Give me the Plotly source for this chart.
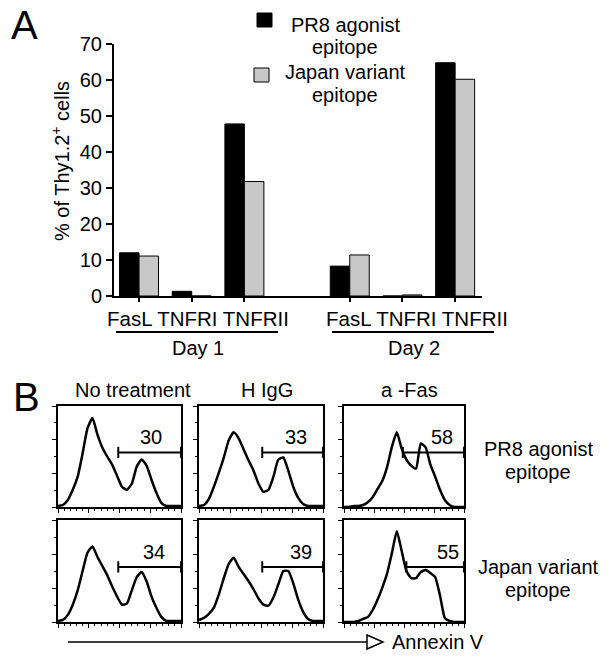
import plotly.graph_objects as go

W, H = 611, 663
FONT = "Liberation Sans, Arial, sans-serif"


def fx(p):
    # pixel column -> paper x
    return p / W


def fy(p):
    # pixel row -> paper y
    return 1 - p / H


# ---- panel A data ----
categories = ["FasL", "TNFRI", "TNFRII"]
days = ["Day 1", "Day 2"]
pr8_agonist = [12.0, 1.3, 47.8, 8.3, 0.0, 64.8]
japan_variant = [11.1, 0.0, 31.8, 11.4, 0.3, 60.2]
y_ticks = [0, 10, 20, 30, 40, 50, 60, 70]
series_names = [["PR8 agonist", "epitope"], ["Japan variant", "epitope"]]

# ---- panel B data: Annexin V histograms (% of max), every 4 channels ----
channel = list(range(0, 101, 4))
hist_pr8_none = [1, 2, 7, 17, 30, 53, 78, 88, 72, 59, 50, 42, 31, 20, 17, 23, 40, 47, 41, 27, 14, 4, 1, 1, 1, 1]
hist_pr8_higg = [1, 2, 8, 20, 34, 49, 66, 74, 68, 57, 46, 36, 23, 15, 17, 30, 47, 49, 36, 20, 9, 3, 1, 1, 1, 1]
hist_pr8_fas = [0, 0, 1, 1, 2, 5, 10, 18, 26, 40, 60, 74, 58, 47, 41, 38, 63, 59, 42, 30, 17, 7, 2, 0, 0, 0]
hist_jap_none = [1, 2, 7, 17, 31, 50, 68, 74, 64, 55, 46, 35, 25, 17, 18, 31, 44, 49, 40, 25, 14, 5, 1, 1, 1, 1]
hist_jap_higg = [2, 4, 8, 14, 27, 43, 57, 63, 54, 47, 40, 32, 23, 17, 16, 24, 37, 50, 50, 38, 22, 10, 3, 1, 1, 1]
hist_jap_fas = [0, 0, 0, 1, 3, 5, 12, 22, 34, 48, 68, 89, 70, 50, 43, 43, 49, 51, 48, 44, 26, 4, 1, 0, 0, 0]

treatments = ["No treatment", "H IgG", "a -Fas"]
histograms = [[hist_pr8_none, hist_pr8_higg, hist_pr8_fas],
              [hist_jap_none, hist_jap_higg, hist_jap_fas]]
gate_pct = [[30, 33, 58], [34, 39, 55]]
gate_start = [[49, 51, 49], [49, 51, 52]]
gate_level = 54

# layout bits for panel B (pixels)
col_px = [(58, 181), (199, 323), (344, 464)]
row_px = [(406, 507), (520, 622)]
title_cx = [133, 267, 409]
label_x = [[76, 78, 82], [78, 82, 87]]

fig = go.Figure()

# ---- panel A bars ----
x_pos = [d * 4 + c for d in range(len(days)) for c in range(len(categories))]
fig.add_trace(go.Bar(x=x_pos, y=pr8_agonist, marker=dict(color="black", line=dict(color="black", width=1)),
                     showlegend=False))
fig.add_trace(go.Bar(x=x_pos, y=japan_variant, marker=dict(color="#c8c8c8", line=dict(color="black", width=1)),
                     showlegend=False))

layout_axes = {
    "xaxis": dict(domain=[fx(114), fx(482)], range=[-0.475, 6.51], anchor="y", automargin=False,
                  showline=True, linewidth=2, linecolor="black", showgrid=False, zeroline=False,
                  tickvals=x_pos, showticklabels=False, ticks="outside", ticklen=4,
                  tickwidth=1.5, tickcolor="black"),
    "yaxis": dict(domain=[fy(296), fy(44)], range=[0, 70], anchor="x", automargin=False,
                  showline=True, linewidth=2, linecolor="black", showgrid=False, zeroline=False,
                  tickvals=y_ticks, ticks="outside", ticklen=6, tickwidth=1.5, tickcolor="black",
                  tickfont=dict(size=20, color="black")),
}

annotations = []
shapes = []


def text(x, y, s, size=20, **kw):
    annotations.append(dict(x=x, y=y, xref=kw.pop("xref", "paper"), yref=kw.pop("yref", "paper"),
                            xanchor=kw.pop("xanchor", "center"), yanchor=kw.pop("yanchor", "middle"),
                            text=s, showarrow=False, font=dict(size=size, color="black", family=FONT),
                            **kw))


text(fx(24), fy(25), "A", size=40)
text(fx(60), fy(161), "% of Thy1.2<sup>+</sup> cells", textangle=-90)

# category labels, underline and day labels
day_text_x = [1.11, 5.28]
day_line_px = [(116, 278), (332, 494)]
for d, day in enumerate(days):
    text(day_text_x[d], fy(318), " ".join(categories), xref="x", size=20.5)
    x0, x1 = day_line_px[d]
    shapes.append(dict(type="line", xref="paper", yref="paper", x0=fx(x0), x1=fx(x1),
                       y0=fy(332), y1=fy(332), line=dict(color="black", width=2)))
    text(fx((x0 + x1) / 2 + 1), fy(348), day)

# legend
swatch = [("black", 257, 13), ("#c8c8c8", 254, 68)]
legend_y = [(25, 47), (72, 95)]
for i, (col, sx, sy) in enumerate(swatch):
    shapes.append(dict(type="rect", xref="paper", yref="paper", x0=fx(sx), x1=fx(sx + 15),
                       y0=fy(sy + 14), y1=fy(sy), fillcolor=col, line=dict(color="black", width=1)))
    for j, line in enumerate(series_names[i]):
        text(fx(345), fy(legend_y[i][j]), line)

# ---- panel B histograms ----
text(fx(26), fy(397), "B", size=40)
for c, t in enumerate(treatments):
    text(fx(title_cx[c]), fy(390), t)

row_label_y = [(449, 472), (567, 590)]
for r in range(2):
    for j, line in enumerate(series_names[r]):
        text(fx(538), fy(row_label_y[r][j]), line)
    for c in range(3):
        k = 2 + r * 3 + c
        xa, ya = f"x{k}", f"y{k}"
        layout_axes[f"xaxis{k}"] = dict(
            domain=[fx(col_px[c][0]), fx(col_px[c][1])], range=[0, 100], anchor=ya, automargin=False,
            showline=True, mirror=True, linewidth=1.5, linecolor="black", showgrid=False,
            zeroline=False, showticklabels=False, ticks="outside", ticklen=4, tickwidth=1,
            tickcolor="black", dtick=25, minor=dict(dtick=5, ticklen=2, ticks="outside", tickcolor="black"))
        layout_axes[f"yaxis{k}"] = dict(
            domain=[fy(row_px[r][1]), fy(row_px[r][0])], range=[0, 100], anchor=xa, automargin=False,
            showline=True, mirror=True, linewidth=1.5, linecolor="black", showgrid=False,
            zeroline=False, showticklabels=False, ticks="outside", ticklen=4, tickwidth=1,
            tickcolor="black", dtick=100 / 3,
            minor=dict(dtick=100 / 6, ticklen=2, ticks="outside", tickcolor="black"))
        fig.add_trace(go.Scatter(x=channel, y=histograms[r][c], xaxis=xa, yaxis=ya, mode="lines",
                                 line=dict(color="black", width=2.5, shape="spline", smoothing=0.5),
                                 showlegend=False, hoverinfo="skip"))
        fig.add_trace(go.Scatter(x=[gate_start[r][c], 100], y=[gate_level, gate_level], xaxis=xa, yaxis=ya,
                                 mode="lines+markers", cliponaxis=False,
                                 line=dict(color="black", width=2),
                                 marker=dict(symbol="line-ns", size=8, line=dict(width=2, color="black")),
                                 showlegend=False, hoverinfo="skip"))
        text(label_x[r][c], gate_level, str(gate_pct[r][c]), xref=xa, yref=ya,
             yanchor="bottom", yshift=2)

# Annexin V arrow
shapes.append(dict(type="line", xref="paper", yref="paper", x0=fx(68), x1=fx(368),
                   y0=fy(642), y1=fy(642), line=dict(color="black", width=1.5)))
shapes.append(dict(type="path", xref="paper", yref="paper",
                   path=f"M {fx(367)},{fy(635)} L {fx(383)},{fy(642)} L {fx(367)},{fy(649)} Z",
                   fillcolor="white", line=dict(color="black", width=1.5)))
text(fx(390), fy(642), "Annexin V", xanchor="left")

fig.update_layout(
    width=W, height=H, autosize=False,
    margin=dict(l=0, r=0, t=0, b=0, pad=0, autoexpand=False),
    paper_bgcolor="white", plot_bgcolor="white",
    font=dict(family=FONT, color="black", size=20),
    barmode="group", bargap=0.26, bargroupgap=0,
    annotations=annotations, shapes=shapes,
    **layout_axes,
)

fig.write_html("out.html", config={"displayModeBar": False},
               post_script="document.body.style.margin='0';")
